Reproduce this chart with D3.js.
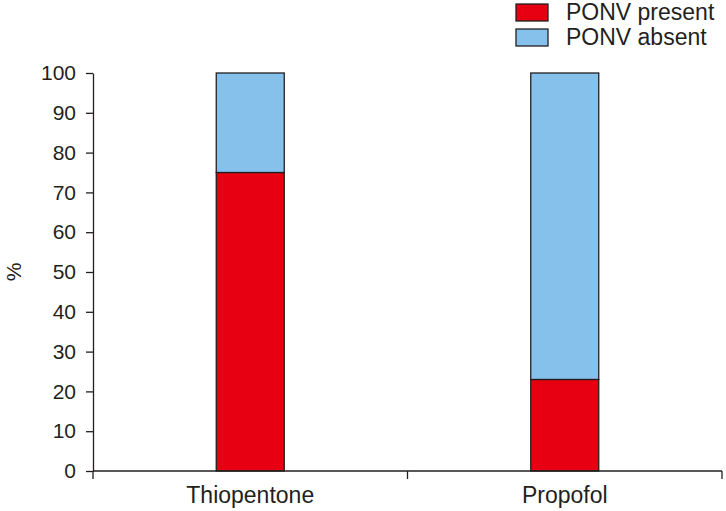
<!DOCTYPE html>
<html><head><meta charset="utf-8">
<script src="https://cdn.jsdelivr.net/npm/d3@7"></script>
<style>body{margin:0;background:#fff}svg{display:block;font-family:"Liberation Sans",Arial,sans-serif}</style>
</head><body><svg id="c" width="726" height="511"></svg>
<script>
const categories = ["Thiopentone", "Propofol"];
const seriesNames = ["PONV present", "PONV absent"];
const ponvPresent = [75, 23];
const ponvAbsent = [25, 77];
const yTicks = [0,10,20,30,40,50,60,70,80,90,100];
const colors = ["#e60012", "#85c1ea"];

const svg = d3.select("#c");
const m = {l:93, r:4, t:73, b:40};
const W = 726, H = 511;
const x = d3.scaleBand().domain(categories).range([m.l, W - m.r]).paddingInner(0).paddingOuter(0);
const y = d3.scaleLinear().domain([0,100]).range([471, 73]);
const ink = "#231f20";

const data = categories.map((c,i)=>({cat:c, "PONV present":ponvPresent[i], "PONV absent":ponvAbsent[i]}));
const stack = d3.stack().keys(seriesNames)(data);
const bw = 68;
stack.forEach((s,si)=>{
  svg.append("g").selectAll("rect").data(s).join("rect")
    .attr("x", d=>x(d.data.cat)+x.bandwidth()/2-bw/2)
    .attr("width", bw)
    .attr("y", d=>y(d[1]))
    .attr("height", d=>y(d[0])-y(d[1]))
    .attr("fill", colors[si])
    .attr("stroke", ink).attr("stroke-width", 1.3);
});

// y axis
const ya = svg.append("g").attr("transform",`translate(${m.l},0)`)
  .call(d3.axisLeft(y).tickValues(yTicks).tickSize(7).tickPadding(10).tickSizeOuter(0));
ya.selectAll("path,line").attr("stroke", ink).attr("stroke-width",1.3);
ya.selectAll("text").attr("font-size",21).attr("fill",ink).attr("font-family","Liberation Sans, Arial, sans-serif");

// x axis
const xa = svg.append("g").attr("transform",`translate(0,471)`);
xa.append("line").attr("x1",m.l).attr("x2",W-m.r).attr("stroke",ink).attr("stroke-width",1.3);
const bounds = [m.l, x(categories[1]), W-m.r];
xa.selectAll("line.t").data(bounds).join("line").attr("class","t")
  .attr("x1",d=>d).attr("x2",d=>d).attr("y1",0).attr("y2",8).attr("stroke",ink).attr("stroke-width",1.3);
xa.selectAll("text").data(categories).join("text")
  .attr("x", d=>x(d)+x.bandwidth()/2).attr("y", 32)
  .attr("text-anchor","middle").attr("font-size",23).attr("fill",ink).text(d=>d);

// y label
svg.append("text").attr("transform","translate(21,272) rotate(-90)")
  .attr("text-anchor","middle").attr("font-size",21).attr("fill",ink).text("%");

// legend
const lg = svg.append("g");
seriesNames.forEach((n,i)=>{
  lg.append("rect").attr("x",516).attr("y",4+i*25).attr("width",32).attr("height",17)
    .attr("fill",colors[i]).attr("stroke",ink).attr("stroke-width",1.3);
  lg.append("text").attr("x",566).attr("y",20+i*25).attr("font-size",23).attr("fill",ink).text(n);
});
</script></body></html>
